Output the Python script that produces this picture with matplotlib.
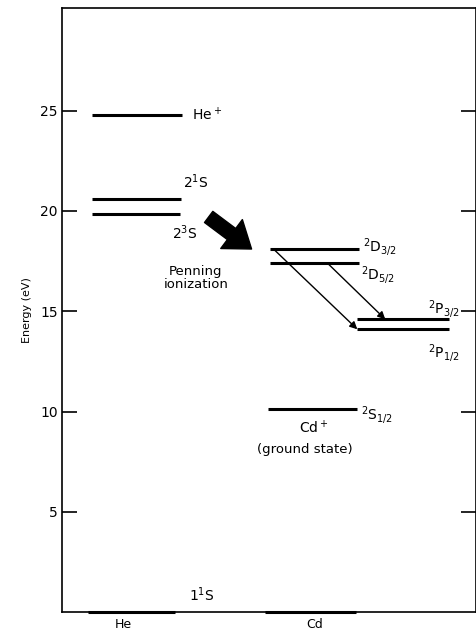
import numpy as np
import matplotlib.pyplot as plt

# energy levels (eV) and their horizontal extent
he_names = ["He+", "2^1S", "2^3S", "1^1S"]
he_energy = [24.8, 20.6, 19.85, 0.0]
cd_names = ["2D3/2", "2D5/2", "2P3/2", "2P1/2", "2S1/2", "ground"]
cd_energy = [18.1, 17.4, 14.6, 14.1, 10.15, 0.0]

he_x = [(30, 120), (30, 119), (30, 118), (26, 113)]
cd_x = [(208, 298), (208, 298), (296, 388), (296, 388), (206, 296), (203, 295)]

yticks = [5, 10, 15, 20, 25]
species = ["He", "Cd"]
species_x = [61, 253]

plt.rcParams['font.family'] = ['DejaVu Sans']

fig = plt.figure(figsize=(4.77, 6.37), dpi=100)
ax = fig.add_axes([0.130, 0.039, 0.868, 0.948])

for (x0, x1), e in zip(he_x, he_energy):
    ax.plot([x0, x1], [e, e], color="black", lw=2.2, solid_capstyle="butt",
            clip_on=False, zorder=4)
for (x0, x1), e in zip(cd_x, cd_energy):
    ax.plot([x0, x1], [e, e], color="black", lw=2.2, solid_capstyle="butt",
            clip_on=False, zorder=4)

# transitions in Cd+
ax.annotate("", xy=(cd_x[3][0], cd_energy[3]), xytext=(cd_x[0][0] + 4, cd_energy[0]),
            arrowprops=dict(arrowstyle="-|>", color="black", lw=1.0,
                            mutation_scale=11, shrinkA=0, shrinkB=0))
ax.annotate("", xy=(cd_x[2][0] + 28, cd_energy[2]), xytext=(cd_x[1][0] + 58, cd_energy[1]),
            arrowprops=dict(arrowstyle="-|>", color="black", lw=1.0,
                            mutation_scale=11, shrinkA=0, shrinkB=0))

# Penning ionization arrow
ax.annotate("", xy=(190, 18.1), xytext=(147, 19.7),
            arrowprops=dict(arrowstyle="simple,head_width=1.3,head_length=0.9,tail_width=0.5",
                            color="black", mutation_scale=20, shrinkA=0, shrinkB=0))

fs = 10
ax.text(130, 24.8, r"He$^+$", fontsize=fs, va="center", ha="left")
ax.text(121, 21.0, r"2$^1$S", fontsize=fs, va="bottom", ha="left")
ax.text(110, 19.4, r"2$^3$S", fontsize=fs, va="top", ha="left")
ax.text(134, 17.3, "Penning\nionization", fontsize=9.5, va="top", ha="center",
        linespacing=1.0)
ax.text(302, 18.2, r"$^2$D$_{3/2}$", fontsize=fs, va="center", ha="left")
ax.text(300, 16.8, r"$^2$D$_{5/2}$", fontsize=fs, va="center", ha="left")
ax.text(367, 15.1, r"$^2$P$_{3/2}$", fontsize=fs, va="center", ha="left")
ax.text(367, 12.9, r"$^2$P$_{1/2}$", fontsize=fs, va="center", ha="left")
ax.text(300, 9.8, r"$^2$S$_{1/2}$", fontsize=fs, va="center", ha="left")
ax.text(252, 9.2, r"Cd$^+$", fontsize=fs, va="center", ha="center")
ax.text(243, 8.1, "(ground state)", fontsize=9.5, va="center", ha="center")
ax.text(127, 0.4, r"1$^1$S", fontsize=fs, va="bottom", ha="left")

ax.set_xlim(0, 415)
ax.set_ylim(0, 30.1)
ax.set_yticks(yticks)
ax.set_yticklabels([str(t) for t in yticks], fontsize=10)
ax.tick_params(axis="y", direction="in", length=11, width=1.2, right=True, pad=3)
ax.set_xticks(species_x)
ax.set_xticklabels(species, fontsize=9)
ax.tick_params(axis="x", length=0, pad=4)
ax.set_ylabel("Energy (eV)", fontsize=8, labelpad=6)
for s in ax.spines.values():
    s.set_linewidth(1.2)

plt.savefig("out.png", dpi=100)
